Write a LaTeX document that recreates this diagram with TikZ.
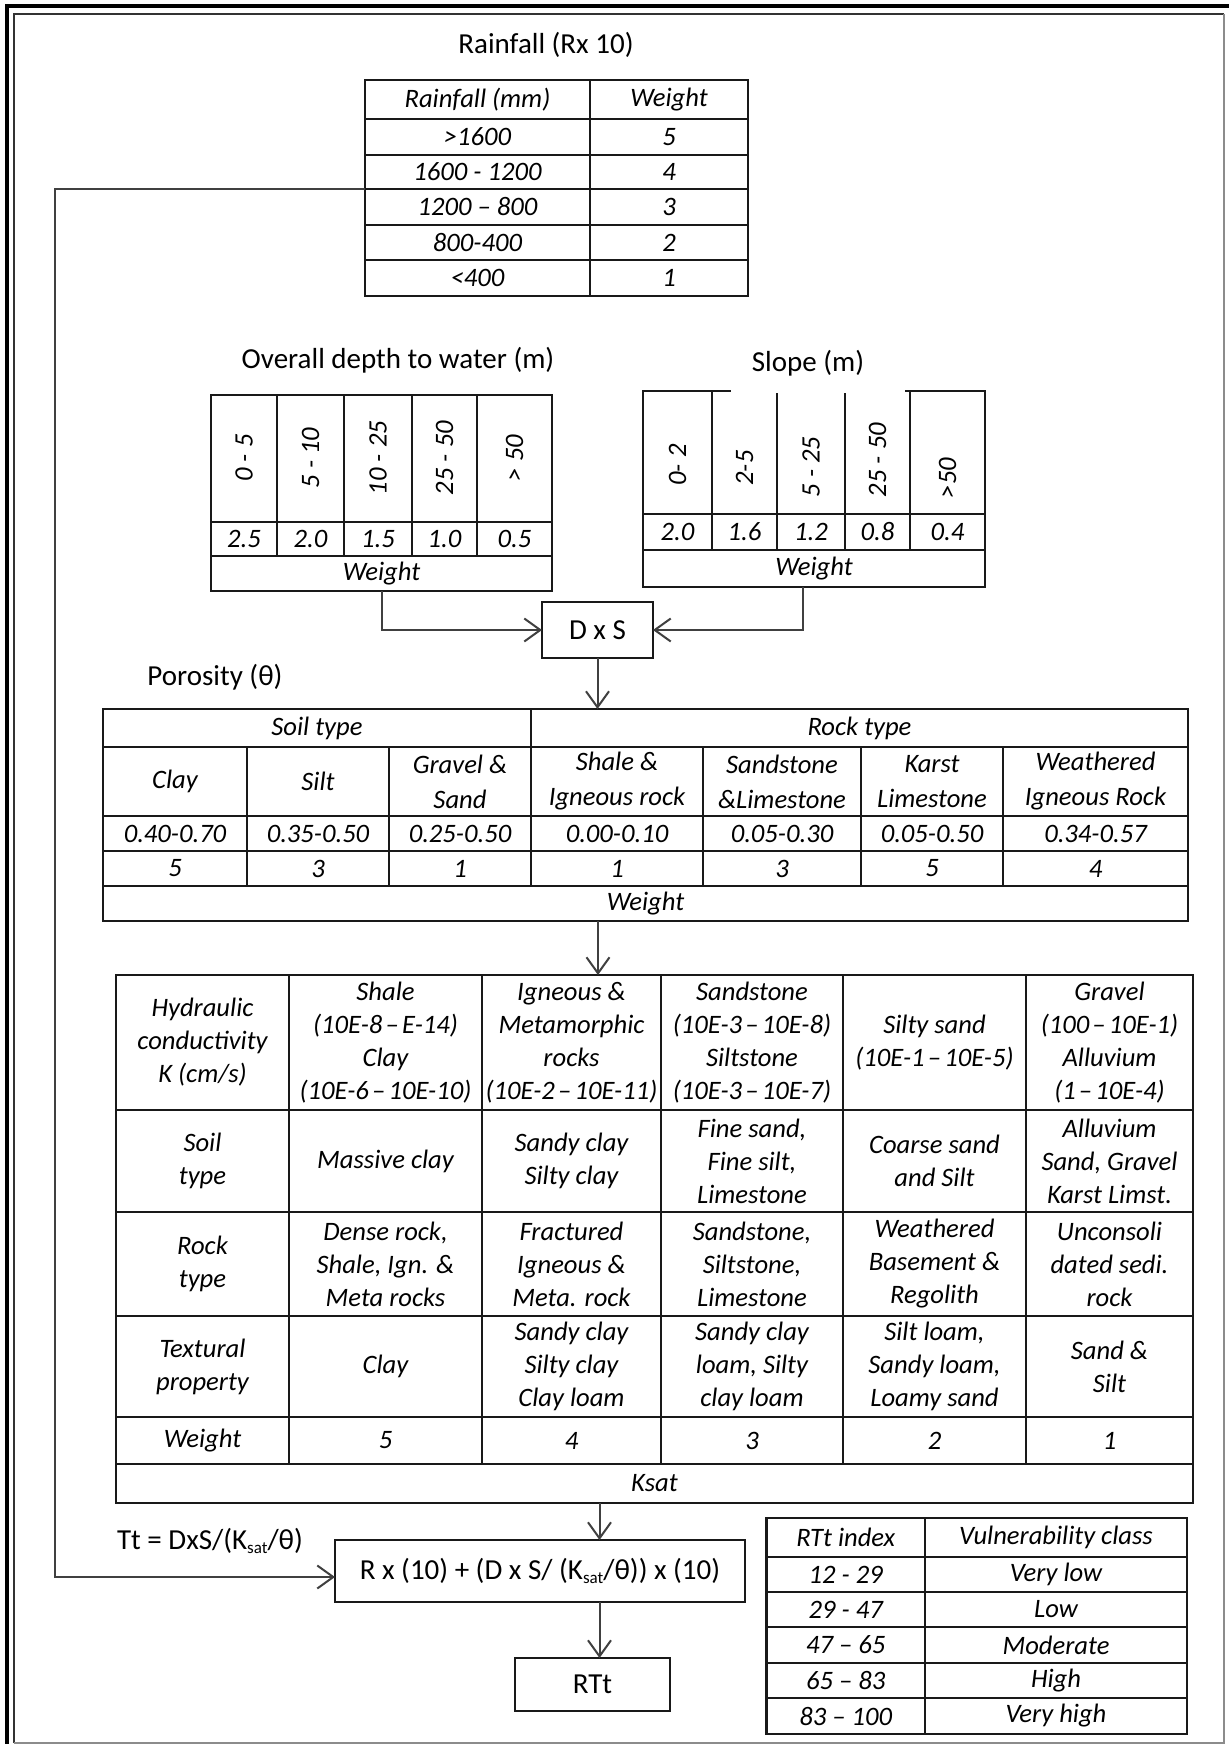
\documentclass[tikz,border=0pt]{standalone}
\usepackage{fontspec}
\setmainfont{Carlito}
\usetikzlibrary{arrows.meta}
\newcommand\cellnode[7][]{\node[cellbox,#1,minimum width={(#5-(#3))*0.5pt},minimum height={(#6-(#4))*0.5pt}] (#2) at ({(#3+#5)/2},{(#4+#6)/2}) {#7};}
\newcommand\lowsub[1]{\raisebox{-0.35ex}{\fontsize{8.5}{9}\selectfont #1}}
\newcommand\rng{\kern0.12em–\kern0.12em}
\begin{document}
\begin{tikzpicture}[x=0.5pt,y=-0.5pt,
  cellbox/.style={draw=black!90,line width=1.1pt,inner sep=0pt,outer sep=0pt,align=center,
    font=\fontsize{13.3}{16.5}\selectfont\itshape,text=black},
  upright/.style={font=\fontsize{14.5}{17}\selectfont},
  ptab/.style={font=\fontsize{13.3}{17.5}\selectfont\itshape},
  ttl/.style={font=\fontsize{14.5}{17}\selectfont,text=black,inner sep=0pt},
  conn/.style={draw=black!75,line width=1pt},
  arr/.style={conn,-{Straight Barb[length=8pt,width=11.5pt]}},
  rot/.style={rotate=90,font=\fontsize{13.3}{16}\selectfont\itshape,inner sep=0pt,text=black}
]
\useasboundingbox[fill=white] (0,0) rectangle (1229,1744);

% frame
\draw[line width=1.6pt,black] (7,1744) -- (7,6) -- (1229,6);
\draw[line width=1.3pt,black!80] (14,1743) -- (14,14) -- (1224,14);
\draw[line width=1.3pt,black!45] (1224,14) -- (1224,1743) -- (14,1743);

% ---------- Rainfall ----------
\node[ttl] (tRain) at (546,45) {Rainfall (Rx 10)};
\cellnode{rH1}{365}{80}{590}{119}{Rainfall (mm)}
\cellnode{rH2}{590}{80}{748}{119}{Weight}
\cellnode{r1a}{365}{119}{590}{155}{>1600}
\cellnode{r1b}{590}{119}{748}{155}{5}
\cellnode{r2a}{365}{155}{590}{189}{1600 - 1200}
\cellnode{r2b}{590}{155}{748}{189}{4}
\cellnode{r3a}{365}{189}{590}{225}{1200 – 800}
\cellnode{r3b}{590}{189}{748}{225}{3}
\cellnode{r4a}{365}{225}{590}{260}{800-400}
\cellnode{r4b}{590}{225}{748}{260}{2}
\cellnode{r5a}{365}{260}{590}{296}{<400}
\cellnode{r5b}{590}{260}{748}{296}{1}

% ---------- Depth ----------
\node[ttl] (tDepth) at (398,360) {Overall depth to water (m)};
\cellnode{d1}{211}{395}{277}{522}{}
\cellnode{d2}{277}{395}{344}{522}{}
\cellnode{d3}{344}{395}{412}{522}{}
\cellnode{d4}{412}{395}{477}{522}{}
\cellnode{d5}{477}{395}{552}{522}{}
\node[rot] (dl1) at (244,458) {0 - 5};
\node[rot] (dl2) at (310.5,458) {5 - 10};
\node[rot] (dl3) at (378,458) {10 - 25};
\node[rot] (dl4) at (444.5,458) {25 - 50};
\node[rot] (dl5) at (514.5,458) {> 50};
\cellnode{dv1}{211}{522}{277}{556}{2.5}
\cellnode{dv2}{277}{522}{344}{556}{2.0}
\cellnode{dv3}{344}{522}{412}{556}{1.5}
\cellnode{dv4}{412}{522}{477}{556}{1.0}
\cellnode{dv5}{477}{522}{552}{556}{0.5}
\cellnode{dW}{211}{556}{552}{591}{Weight}

% ---------- Slope ----------
\node[ttl] (tSlope) at (808,363) {Slope (m)};
\cellnode{s1}{643}{391}{712}{514}{}
\cellnode{s2}{712}{391}{777}{514}{}
\cellnode{s3}{777}{391}{845}{514}{}
\cellnode{s4}{845}{391}{910}{514}{}
\cellnode{s5}{910}{391}{985}{514}{}
\draw[white,line width=1.5pt] (731,391) -- (905,391);
\node[rot] (sl1) at (677.5,465) {0- 2};
\node[rot] (sl2) at (744.5,468) {2-5};
\node[rot] (sl3) at (811,467) {5 - 25};
\node[rot] (sl4) at (877.5,460) {25 - 50};
\node[rot] (sl5) at (947.5,478) {>50};
\cellnode{sv1}{643}{514}{712}{550}{2.0}
\cellnode{sv2}{712}{514}{777}{550}{1.6}
\cellnode{sv3}{777}{514}{845}{550}{1.2}
\cellnode{sv4}{845}{514}{910}{550}{0.8}
\cellnode{sv5}{910}{514}{985}{550}{0.4}
\cellnode{sW}{643}{550}{985}{587}{Weight}

% ---------- D x S ----------
\cellnode[upright]{dxs}{542}{602}{653}{658}{D x S}

% ---------- Porosity ----------
\node[ttl] (tPor) at (215,677) {Porosity (θ)};
\cellnode{soilH}{103}{709}{531}{747}{Soil type}
\cellnode{rockH}{531}{709}{1188}{747}{Rock type}
\cellnode[ptab]{p21}{103}{747}{247}{816}{Clay}
\cellnode[ptab]{p22}{247}{747}{389}{816}{Silt}
\cellnode[ptab]{p23}{389}{747}{531}{816}{Gravel \&\\Sand}
\cellnode[ptab]{p24}{531}{747}{703}{816}{Shale \&\\Igneous rock}
\cellnode[ptab]{p25}{703}{747}{861}{816}{Sandstone\\\&Limestone}
\cellnode[ptab]{p26}{861}{747}{1003}{816}{Karst\\Limestone}
\cellnode[ptab]{p27}{1003}{747}{1188}{816}{Weathered\\Igneous Rock}
\cellnode{p31}{103}{816}{247}{851}{0.40-0.70}
\cellnode{p32}{247}{816}{389}{851}{0.35-0.50}
\cellnode{p33}{389}{816}{531}{851}{0.25-0.50}
\cellnode{p34}{531}{816}{703}{851}{0.00-0.10}
\cellnode{p35}{703}{816}{861}{851}{0.05-0.30}
\cellnode{p36}{861}{816}{1003}{851}{0.05-0.50}
\cellnode{p37}{1003}{816}{1188}{851}{0.34-0.57}
\cellnode{p41}{103}{851}{247}{886}{5}
\cellnode{p42}{247}{851}{389}{886}{3}
\cellnode{p43}{389}{851}{531}{886}{1}
\cellnode{p44}{531}{851}{703}{886}{1}
\cellnode{p45}{703}{851}{861}{886}{3}
\cellnode{p46}{861}{851}{1003}{886}{5}
\cellnode{p47}{1003}{851}{1188}{886}{4}
\cellnode{pW}{103}{886}{1188}{921}{Weight}

% ---------- Hydraulic conductivity ----------
\cellnode{k11}{116}{975}{289}{1110}{Hydraulic\\conductivity\\K (cm/s)}
\cellnode{k12}{289}{975}{482}{1110}{Shale\\(10E-8\rng E-14)\\Clay\\(10E-6\rng 10E-10)}
\cellnode{k13}{482}{975}{661}{1110}{Igneous \&\\Metamorphic\\rocks\\(10E-2\rng 10E-11)}
\cellnode{k14}{661}{975}{843}{1110}{Sandstone\\(10E-3\rng 10E-8)\\Siltstone\\(10E-3\rng 10E-7)}
\cellnode{k15}{843}{975}{1026}{1110}{Silty sand\\(10E-1\rng 10E-5)}
\cellnode{k16}{1026}{975}{1193}{1110}{Gravel\\(100\rng 10E-1)\\Alluvium\\(1\rng 10E-4)}
\cellnode{k21}{116}{1110}{289}{1212}{Soil\\type}
\cellnode{k22}{289}{1110}{482}{1212}{Massive clay}
\cellnode{k23}{482}{1110}{661}{1212}{Sandy clay\\Silty clay}
\cellnode{k24}{661}{1110}{843}{1212}{Fine sand,\\Fine silt,\\Limestone}
\cellnode{k25}{843}{1110}{1026}{1212}{Coarse sand\\and Silt}
\cellnode{k26}{1026}{1110}{1193}{1212}{Alluvium\\Sand, Gravel\\Karst Limst.}
\cellnode{k31}{116}{1212}{289}{1316}{Rock\\type}
\cellnode{k32}{289}{1212}{482}{1316}{Dense rock,\\Shale, Ign. \&\\Meta rocks}
\cellnode{k33}{482}{1212}{661}{1316}{Fractured\\Igneous \&\\Meta. rock}
\cellnode{k34}{661}{1212}{843}{1316}{Sandstone,\\Siltstone,\\Limestone}
\cellnode{k35}{843}{1212}{1026}{1316}{Weathered\\Basement \&\\Regolith}
\cellnode{k36}{1026}{1212}{1193}{1316}{Unconsoli\\dated sedi.\\rock}
\cellnode{k41}{116}{1316}{289}{1417}{Textural\\property}
\cellnode{k42}{289}{1316}{482}{1417}{Clay}
\cellnode{k43}{482}{1316}{661}{1417}{Sandy clay\\Silty clay\\Clay loam}
\cellnode{k44}{661}{1316}{843}{1417}{Sandy clay\\loam, Silty\\clay loam}
\cellnode{k45}{843}{1316}{1026}{1417}{Silt loam,\\Sandy loam,\\Loamy sand}
\cellnode{k46}{1026}{1316}{1193}{1417}{Sand \&\\Silt}
\cellnode{k51}{116}{1417}{289}{1464}{Weight}
\cellnode{k52}{289}{1417}{482}{1464}{5}
\cellnode{k53}{482}{1417}{661}{1464}{4}
\cellnode{k54}{661}{1417}{843}{1464}{3}
\cellnode{k55}{843}{1417}{1026}{1464}{2}
\cellnode{k56}{1026}{1417}{1193}{1464}{1}
\cellnode{ksat}{116}{1464}{1193}{1503}{Ksat}

% ---------- Formula and result ----------
\node[ttl] (tTt) at (210,1541) {Tt = DxS/(K\lowsub{sat}/θ)};
\cellnode[upright]{formula}{335}{1540}{745}{1602}{R x (10) + (D x S/ (K\lowsub{sat}/θ)) x (10)}
\cellnode[upright]{rtt}{515}{1658}{670}{1711}{RTt}

% ---------- RTt table ----------
\cellnode{v0a}{766.5}{1518}{925}{1557}{RTt index}
\cellnode{v0b}{925}{1518}{1187}{1557}{Vulnerability class}
\cellnode{v1a}{766.5}{1557}{925}{1592}{12 - 29}
\cellnode{v1b}{925}{1557}{1187}{1592}{Very low}
\cellnode{v2a}{766.5}{1592}{925}{1627}{29 - 47}
\cellnode{v2b}{925}{1592}{1187}{1627}{Low}
\cellnode{v3a}{766.5}{1627}{925}{1663}{47 – 65}
\cellnode{v3b}{925}{1627}{1187}{1663}{Moderate}
\cellnode{v4a}{766.5}{1663}{925}{1698}{65 – 83}
\cellnode{v4b}{925}{1663}{1187}{1698}{High}
\cellnode{v5a}{766.5}{1698}{925}{1734}{83 – 100}
\cellnode{v5b}{925}{1698}{1187}{1734}{Very high}

% ---------- connectors ----------
\coordinate (cL) at (55,1577);
\coordinate (cA) at (598,0);
\coordinate (cB) at (599.5,0);
\draw[arr] (r3a.north west) -| (cL) -- (cL -| formula.west);
\draw[arr] (dW.south) |- (dxs.west);
\draw[arr] ([xshift=-5.5pt]sW.south) |- (dxs.east);
\draw[arr] (dxs.south) -- (dxs.south |- rockH.north);
\draw[arr] (cA |- pW.south) -- (cA |- k11.north);
\draw[arr] (cB |- ksat.south) -- (cB |- formula.north);
\draw[arr] (cB |- formula.south) -- (cB |- rtt.north);
\end{tikzpicture}
\end{document}
